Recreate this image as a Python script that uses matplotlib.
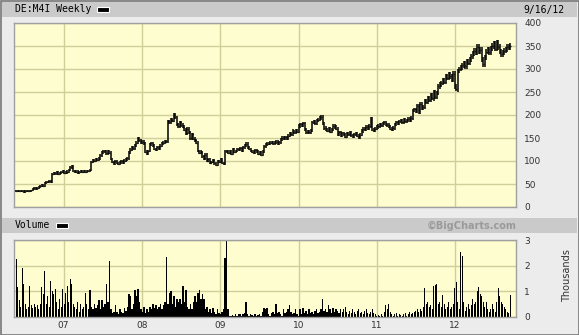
import numpy as np
import pandas as pd
import matplotlib
matplotlib.use("Agg")
import matplotlib.pyplot as plt
import matplotlib.dates as mdates
from matplotlib.patches import Rectangle

# weekly closes (EUR)
close = [34, 35, 34, 35, 35, 34, 33, 34, 35, 35, 34, 36,
         40, 41, 40, 41, 44, 46, 47, 45, 53, 55, 54, 56, 54,
         72, 74, 73, 75, 72, 74, 76, 78, 74, 75, 77, 80, 86, 88,
         78, 76, 77, 75, 76, 77, 76, 78, 77, 78, 79, 80,
         98, 102, 100, 104, 103, 105, 112, 118, 122, 120, 117, 121, 118, 104,
         98, 95, 100, 96, 93, 97, 99, 96, 101, 103,
         106, 118, 125, 130, 128, 134, 140, 148, 145, 140, 142, 138,
         120, 115, 122, 136, 139, 134, 126, 124, 130, 128, 133, 138, 140, 142, 143,
         186, 184, 190, 188, 200, 195, 180, 176, 184, 178,
         175, 168, 160, 170, 162, 150, 158, 148, 145, 140,
         122, 118, 120, 110, 106, 114,
         100, 104, 96, 98, 102, 95, 92, 100, 98, 104, 96, 94,
         122, 120, 118, 122, 116, 125, 120, 122, 126, 124, 128, 122, 130, 134, 138,
         130, 126, 122, 120, 118, 124, 120, 116, 118, 114, 120,
         132, 136, 138, 137, 140, 141, 139, 140, 142, 138, 141,
         146, 150, 148, 152, 150, 155, 160, 158, 165, 162, 166, 164,
         176, 180, 178, 182, 168, 162, 164, 163, 166,
         184, 186, 183, 188, 190, 194, 196, 182, 172, 168, 166, 170, 164, 168,
         176, 174, 170,
         158, 162, 155, 160, 157, 153, 160, 158, 162, 156, 154, 158, 160, 155, 152, 157,
         165, 170, 168, 174, 172, 176, 192, 168, 166, 170, 174,
         176, 180, 178, 182, 184, 180, 178, 175, 170, 168, 172,
         180, 184, 182, 186, 188, 184, 190, 186, 188, 192, 188, 194,
         210, 212, 208, 220, 206, 224, 214, 218, 230, 228, 236, 232,
         244, 236, 250, 240, 248, 262, 266, 270,
         275, 272, 284, 280, 288, 284, 276, 290, 262, 256, 296, 300,
         304, 308, 312, 306, 316, 314, 320, 328, 334, 340, 336, 348, 338, 342,
         320, 310, 325, 338, 342, 336, 345, 350, 356, 344, 358, 348,
         338, 332, 336, 340, 342, 348, 346, 350]

# weekly volume, thousands of shares
volume = [2.66, 2.27, 1.17, 0.65, 0.4, 1.9, 1.3, 0.5, 0.3, 0.4,
          1.2, 0.45, 0.35, 0.5, 0.4, 0.45, 0.3, 0.5, 1.15, 0.9,
          1.8, 0.5, 0.8, 0.4, 1.4, 1.0, 0.9, 1.1, 0.6, 0.3,
          0.7, 0.4, 1.1, 0.5, 0.95, 1.2, 0.6, 1.5, 1.3, 0.5,
          0.4, 0.3, 0.6, 0.2, 0.5, 0.3, 0.4, 0.95, 0.5, 0.3,
          1.05, 0.4, 0.3, 0.5, 0.35, 0.45, 0.65, 0.3, 0.65, 0.4,
          0.5, 1.3, 0.6, 2.2, 0.3, 0.15, 0.2, 0.45, 0.2, 0.1,
          0.3, 0.2, 0.15, 0.35, 0.25, 0.4, 0.9, 0.8, 0.3, 0.5,
          1.05, 0.8, 1.1, 0.6, 0.3, 0.2, 0.4, 0.15, 0.3, 0.2,
          0.4, 0.3, 0.5, 0.35, 0.45, 0.3, 0.4, 0.5, 0.3, 0.45,
          0.6, 2.35, 0.5, 0.95, 1.0, 0.5, 0.8, 0.4, 0.7, 0.6,
          0.7, 0.5, 1.2, 0.6, 1.05, 0.4, 0.3, 0.5, 0.3, 0.6,
          0.8, 0.6, 0.95, 1.05, 0.7, 0.9, 0.7, 0.3, 0.4, 0.2,
          0.3, 0.15, 0.35, 0.2, 0.1, 0.3, 0.15, 0.1, 0.2, 0.3,
          2.3, 2.98, 0.3, 0.05, 0.05, 0.08, 0.05, 0.1, 0.05, 0.1,
          0.1, 0.05, 0.1, 0.15, 0.6, 0.1, 0.05, 0.1, 0.08, 0.05,
          0.1, 0.05, 0.08, 0.1, 0.05, 0.2, 0.35, 0.3, 0.35, 0.1,
          0.05, 0.15, 0.2, 0.1, 0.5, 0.15, 0.2, 0.1, 0.05, 0.3,
          0.15, 0.2, 0.3, 0.45, 0.2, 0.1, 0.15, 0.3, 0.1, 0.05,
          0.3, 0.1, 0.35, 0.15, 0.25, 0.1, 0.3, 0.15, 0.2, 0.1,
          0.25, 0.3, 0.15, 0.2, 0.3, 0.72, 0.25, 0.3, 0.2, 0.45,
          0.3, 0.15, 0.35, 0.2, 0.3, 0.25, 0.15, 0.3, 0.2, 0.3,
          0.38, 0.2, 0.1, 0.25, 0.15, 0.3, 0.2, 0.1, 0.25, 0.3,
          0.15, 0.2, 0.1, 0.25, 0.33, 0.15, 0.1, 0.2, 0.33, 0.15,
          0.1, 0.05, 0.08, 0.05, 0.1, 0.05, 0.2, 0.45, 0.3, 0.5,
          0.2, 0.1, 0.05, 0.1, 0.15, 0.05, 0.1, 0.08, 0.05, 0.1,
          0.15, 0.05, 0.1, 0.2, 0.1, 0.15, 0.2, 0.25, 0.3, 0.2,
          0.3, 0.25, 0.4, 1.13, 0.5, 0.6, 0.4, 0.45, 0.3, 1.2,
          1.25, 1.3, 0.5, 0.6, 0.4, 0.85, 0.5, 0.3, 0.4, 0.6,
          0.3, 0.4, 0.5, 1.13, 1.35, 0.6, 0.3, 2.55, 2.37, 0.6,
          0.25, 0.4, 0.5, 0.3, 0.45, 0.7, 0.5, 0.6, 1.0, 1.18,
          0.9, 0.8, 0.6, 0.4, 0.6, 0.3, 0.2, 0.3, 0.5, 0.3,
          0.2, 0.6, 1.13, 0.8, 0.6, 0.5, 0.4, 0.3, 0.2, 0.15,
          0.85]

year_starts = ['2007-01-01', '2008-01-01', '2009-01-01', '2010-01-01', '2011-01-01', '2012-01-01']
year_labels = ['07', '08', '09', '10', '11', '12']
price_ticks = [0, 50, 100, 150, 200, 250, 300, 350, 400]
vol_ticks = [0, 1, 2, 3]

n = min(len(close), len(volume))
close = np.array(close[-n:], dtype=float)
volume = np.array(volume[-n:], dtype=float)
dates = mdates.date2num(pd.date_range(end='2012-09-14', periods=n, freq='W-FRI'))
# bar spans from previous close to this close, a little beyond both ends
prev = np.concatenate([[close[0]], close[:-1]])
ext = 1.5 + close * 0.012
hi = np.maximum(prev, close) + ext
lo = np.minimum(prev, close) - ext

W, H = 579, 335
def box(x0, y0, x1, y1):
    return [x0 / W, 1 - y1 / H, (x1 - x0) / W, (y1 - y0) / H]

bg = '#ececec'
face = '#fdfdd0'
gridc = '#cfcf9a'
txt = '#333333'

fig = plt.figure(figsize=(W / 100, H / 100), dpi=100, facecolor=bg)

# header bands
for y0, y1 in [(2, 17), (218, 233)]:
    fig.add_artist(Rectangle((2 / W, 1 - y1 / H), (W - 4) / W, (y1 - y0) / H,
                             transform=fig.transFigure, facecolor='#cacaca', edgecolor='none'))
fig.add_artist(Rectangle((0.5 / W, 0.5 / H), (W - 1) / W, (H - 1) / H, transform=fig.transFigure,
                         facecolor='none', edgecolor='#777777', lw=1.2))

xmin = mdates.date2num(pd.Timestamp('2006-05-15'))
xmax = mdates.date2num(pd.Timestamp('2012-10-11'))
ticks_x = mdates.date2num(pd.to_datetime(year_starts))

ax = fig.add_axes(box(14, 23, 516, 207))
ax2 = fig.add_axes(box(14, 240, 516, 317))
for a in (ax, ax2):
    a.set_facecolor(face)
    a.set_xlim(xmin, xmax)
    a.set_xticks(ticks_x)
    a.grid(True, color=gridc, lw=1.0)
    a.set_axisbelow(True)
    a.yaxis.tick_right()
    a.tick_params(length=0, labelsize=6.5, colors=txt, pad=6)
    for s in a.spines.values():
        s.set_color('#a0a0a0')
        s.set_linewidth(1.0)

ax.vlines(dates, lo, hi, color='black', lw=1.1)
ax.hlines(close, dates, dates + 2.5, color='black', lw=1.0)
ax.set_ylim(0, 400)
ax.set_yticks(price_ticks)
ax.set_xticklabels([])

ax2.bar(dates, volume, width=5.5, color='black', align='center', linewidth=0)
ax2.set_ylim(0, 3)
ax2.set_yticks(vol_ticks)
ax2.set_xticklabels(year_labels)
ax2.tick_params(axis='x', pad=3)

mono = 'DejaVu Sans Mono'
fig.text(15 / W, 1 - 9.5 / H, 'DE:M4I Weekly', family=mono, fontsize=7, color='black', va='center')
fig.add_artist(Rectangle((97 / W, 1 - 12 / H), 12 / W, 5 / H, transform=fig.transFigure,
                         facecolor='black', edgecolor='white', lw=0.8))
fig.text(565 / W, 1 - 9.5 / H, '9/16/12', family=mono, fontsize=7, color='black', va='center', ha='right')
fig.text(15 / W, 1 - 225.5 / H, 'Volume', family=mono, fontsize=7, color='black', va='center')
fig.add_artist(Rectangle((56 / W, 1 - 228 / H), 12 / W, 5 / H, transform=fig.transFigure,
                         facecolor='black', edgecolor='white', lw=0.8))
fig.text(516 / W, 1 - 225.5 / H, '\u00a9BigCharts.com', fontsize=7, fontweight='bold',
         color='#9a9a9a', va='center', ha='right')
fig.text(567 / W, 1 - 276 / H, 'Thousands', fontsize=7, color=txt, rotation=90, va='center', ha='center')

fig.savefig('out.png', dpi=100, facecolor=bg)
